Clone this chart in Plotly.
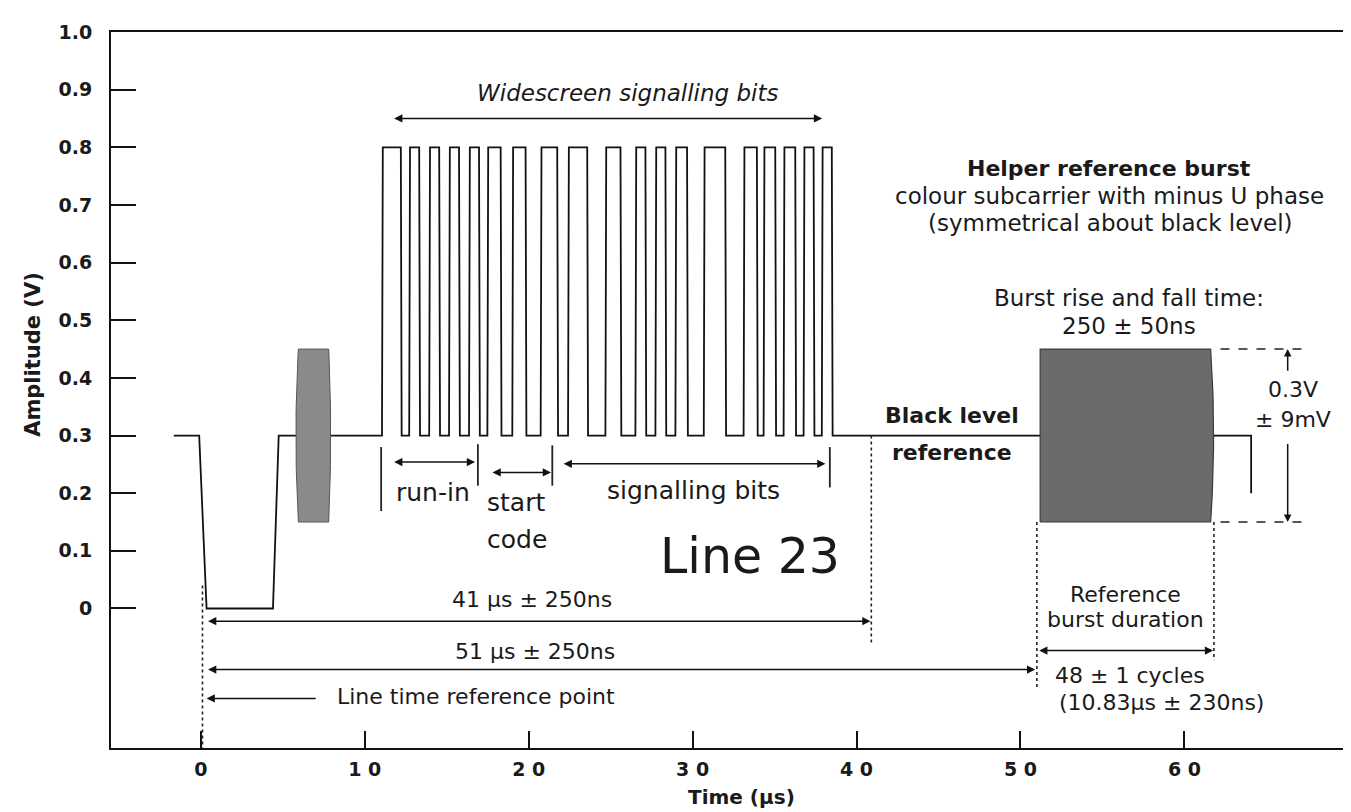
import numpy as np
import plotly.graph_objects as go

# ---------------- data ----------------
x_tick_vals = [0, 10, 20, 30, 40, 50, 60]
x_tick_text = ["0", "1 0", "2 0", "3 0", "4 0", "5 0", "6 0"]
y_tick_vals = [0, 0.1, 0.2, 0.3, 0.4, 0.5, 0.6, 0.7, 0.8, 0.9, 1.0]
y_tick_text = ["0", "0.1", "0.2", "0.3", "0.4", "0.5", "0.6", "0.7", "0.8", "0.9", "1.0"]

black_level = 0.3
wss_high = 0.8

# line sync + back porch (time µs, amplitude V)
pre_t = [-1.65, -0.1, 0.35, 4.4, 4.75]
pre_v = [0.3, 0.3, 0.0, 0.0, 0.3]

# widescreen signalling pulses (rise, fall) in µs
wss_rise = [11.05, 12.71, 13.93, 15.14, 16.36, 17.48, 19.00, 20.73, 22.40, 24.68,
            26.51, 27.73, 28.95, 30.68, 33.11, 34.33, 35.55, 36.77, 37.88]
wss_fall = [12.20, 13.32, 14.54, 15.75, 16.97, 18.29, 19.81, 21.74, 23.57, 25.60,
            27.12, 28.34, 29.66, 31.99, 33.92, 35.04, 36.26, 37.38, 38.49]

# end of line
post_t = [64.07, 64.07]
post_v = [0.3, 0.2]

# colour burst and helper reference burst (start, end, amplitude about black level)
cburst = dict(start=5.95, end=7.8, amp=0.15)
hburst = dict(start=51.2, end=61.6, amp=0.15)

# ---------------- build waveform ----------------
edge = 0.05
wt, wv = list(pre_t), list(pre_v)
for r, f in zip(wss_rise, wss_fall):
    wt += [r, r + edge, f, f + edge]
    wv += [black_level, wss_high, wss_high, black_level]
wt += post_t
wv += post_v

fig = go.Figure()
fig.add_trace(go.Scatter(x=wt, y=wv, mode="lines",
                         line=dict(color="#111111", width=1.8),
                         hoverinfo="skip", showlegend=False))


def barrel(b, bulge_left, bulge_right, n=25):
    s = np.linspace(-1, 1, n)
    v = black_level + b["amp"] * s
    left = b["start"] - bulge_left * (1 - s ** 2)
    right = b["end"] + bulge_right * (1 - s ** 2)
    xs = list(left) + list(right[::-1]) + [left[0]]
    ys = list(v) + list(v[::-1]) + [v[0]]
    return xs, ys


bx, by = barrel(cburst, 0.15, 0.12)
fig.add_trace(go.Scatter(x=bx, y=by, mode="lines", fill="toself",
                         fillcolor="#8a8a8a", line=dict(color="#555555", width=1),
                         hoverinfo="skip", showlegend=False))
hx, hy = barrel(hburst, 0.0, 0.18)
fig.add_trace(go.Scatter(x=hx, y=hy, mode="lines", fill="toself",
                         fillcolor="#6b6b6b", line=dict(color="#3a3a3a", width=1.2),
                         hoverinfo="skip", showlegend=False))

FONT = "DejaVu Sans"
TXT = "#1a1a1a"

# ---------------- helper lines ----------------
def vline(x, y0, y1, dash="dot", width=1.6):
    fig.add_shape(type="line", x0=x, x1=x, y0=y0, y1=y1, xref="x", yref="y",
                  line=dict(color="#222222", width=width, dash=dash))


def hline(y, x0, x1, dash="dash", width=1.4):
    fig.add_shape(type="line", x0=x0, x1=x1, y0=y, y1=y, xref="x", yref="y",
                  line=dict(color="#222222", width=width, dash=dash))


vline(0.1, 0.04, -0.242)
vline(40.9, 0.3, -0.06)
vline(51.0, 0.15, -0.14)
vline(61.8, 0.15, -0.09)
hline(0.45, 62.2, 67.2)
hline(0.15, 62.2, 67.2)

# segment marker bars
for bx_, y0, y1 in [(11.0, 0.28, 0.169), (16.9, 0.285, 0.213),
                    (21.44, 0.283, 0.213), (38.37, 0.28, 0.21)]:
    vline(bx_, y0, y1, dash="solid", width=1.8)


def arrow(x0, y0, x1, y1, both=True, width=1.5, size=1.1):
    fig.add_annotation(x=x1, y=y1, ax=x0, ay=y0, xref="x", yref="y",
                       axref="x", ayref="y", text="", showarrow=True,
                       arrowhead=2, arrowsize=size, arrowwidth=width,
                       arrowcolor="#111111",
                       arrowside="end+start" if both else "end",
                       standoff=0, startstandoff=0)


arrow(11.7, 0.85, 37.9, 0.85)
arrow(11.7, 0.254, 16.73, 0.254)
arrow(17.7, 0.236, 21.36, 0.236)
arrow(22.04, 0.251, 38.1, 0.251)
arrow(0.35, -0.022, 40.85, -0.022)
arrow(0.35, -0.106, 50.9, -0.106)
arrow(7.1, -0.156, 0.35, -0.156, both=False)
arrow(51.05, -0.073, 61.75, -0.073)
arrow(66.3, 0.41, 66.3, 0.45, both=False, size=1.0)
arrow(66.3, 0.288, 66.3, 0.15, both=False, size=1.0)


def label(x, y, text, size=22, bold=False, italic=False, family=FONT):
    fig.add_annotation(x=x, y=y, xref="x", yref="y", text=text, showarrow=False,
                       xanchor="center", yanchor="middle",
                       font=dict(family=family, size=size, color=TXT,
                                 weight="bold" if bold else "normal",
                                 style="italic" if italic else "normal"))


label(26.0, 0.895, "Widescreen signalling bits", size=23, italic=True)
label(55.4, 0.764, "Helper reference burst", size=22, bold=True)
label(55.4, 0.716, "colour subcarrier with minus U phase", size=23)
label(55.5, 0.669, "(symmetrical about black level)", size=23)
label(56.6, 0.539, "Burst rise and fall time:", size=23)
label(56.6, 0.49, "250 ± 50ns", size=23)
label(45.85, 0.334, "Black level", size=22, bold=True)
label(45.8, 0.27, "reference", size=22, bold=True)
label(66.6, 0.38, "0.3V", size=22)
label(66.6, 0.328, "± 9mV", size=22)
label(14.15, 0.201, "run-in", size=25)
label(19.2, 0.184, "start", size=25)
label(19.3, 0.12, "code", size=25)
label(30.07, 0.204, "signalling bits", size=25)
label(33.5, 0.09, "Line 23", size=49)
label(20.2, 0.015, "41 µs ± 250ns", size=22)
label(20.4, -0.075, "51 µs ± 250ns", size=22)
label(16.8, -0.153, "Line time reference point", size=22)
label(56.4, 0.024, "Reference", size=22)
label(56.4, -0.019, "burst duration", size=22)
label(56.7, -0.116, "48 ± 1 cycles", size=22)
label(58.6, -0.163, "(10.83µs ± 230ns)", size=22)

# axis titles
fig.add_annotation(x=33.0, y=-0.069, xref="x", yref="paper", text="<b>Time (µs)</b>",
                   showarrow=False, xanchor="center", yanchor="middle",
                   font=dict(family=FONT, size=20, color=TXT))
fig.add_annotation(x=-0.063, y=0.44, xref="paper", yref="y", text="<b>Amplitude (V)</b>",
                   showarrow=False, textangle=-90, xanchor="center", yanchor="middle",
                   font=dict(family=FONT, size=21, color=TXT))

fig.update_layout(
    width=1351, height=812,
    margin=dict(l=103, r=8, t=24, b=72),
    paper_bgcolor="white", plot_bgcolor="white",
    showlegend=False,
    xaxis=dict(range=[-5.48, 70.04], showgrid=False, zeroline=False,
               showline=True, mirror=True, linecolor="#111111", linewidth=2,
               ticks="inside", ticklen=17, tickwidth=2, tickcolor="#111111",
               tickvals=x_tick_vals, ticktext=x_tick_text,
               tickfont=dict(family=FONT, size=19, color=TXT, weight="bold"),
               ticklabelstandoff=3),
    yaxis=dict(range=[-0.242, 1.0], showgrid=False, zeroline=False,
               showline=True, mirror=True, linecolor="#111111", linewidth=2,
               ticks="inside", ticklen=25, tickwidth=2, tickcolor="#111111",
               tickvals=y_tick_vals, ticktext=y_tick_text,
               tickfont=dict(family=FONT, size=19, color=TXT, weight="bold"),
               ticklabelstandoff=13),
)

fig.write_html("out.html")
